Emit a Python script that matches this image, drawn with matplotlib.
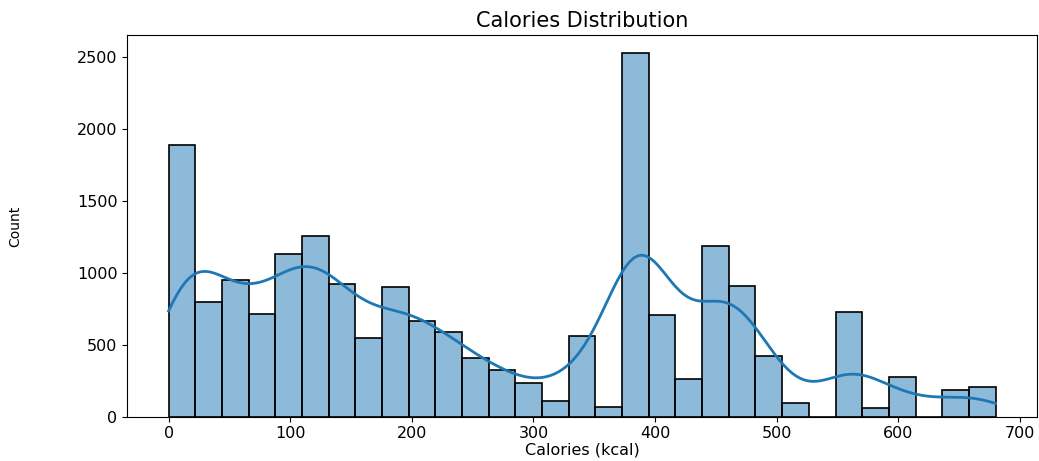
import numpy as np
import matplotlib
matplotlib.use("Agg")
import matplotlib.pyplot as plt
import seaborn as sns

# bin counts (31 bins over 0..680 kcal)
bin_lo = 0
bin_hi = 680
counts = [1890, 797, 948, 718, 1134, 1255, 925, 546, 904, 667, 588,
          409, 323, 237, 107, 562, 70, 2529, 711, 265, 1190, 911,
          423, 93, 0, 732, 58, 279, 0, 186, 209]

edges = np.linspace(bin_lo, bin_hi, len(counts) + 1)
centers = (edges[:-1] + edges[1:]) / 2
calories = np.repeat(centers, counts)

fig = plt.figure(figsize=(10.39, 4.61), dpi=100)
ax = fig.add_axes([0.1225, 0.096, 0.8755, 0.828])

sns.histplot(calories, bins=edges, kde=True, edgecolor="black",
             linewidth=1.2, line_kws={"linewidth": 2},
             kde_kws={"bw_adjust": 1.05, "cut": 3, "clip": (bin_lo, bin_hi)},
             ax=ax)

ax.set_title("Calories Distribution", fontsize=15)
ax.set_xlabel("Calories (kcal)", fontsize=11.5, labelpad=1)
ax.set_ylabel("Count", fontsize=10)
ax.yaxis.set_label_coords(-0.116, 0.5)
ax.tick_params(labelsize=11.5)
ax.set_xticks(range(0, 701, 100))

fig.savefig("out.png", dpi=100)
